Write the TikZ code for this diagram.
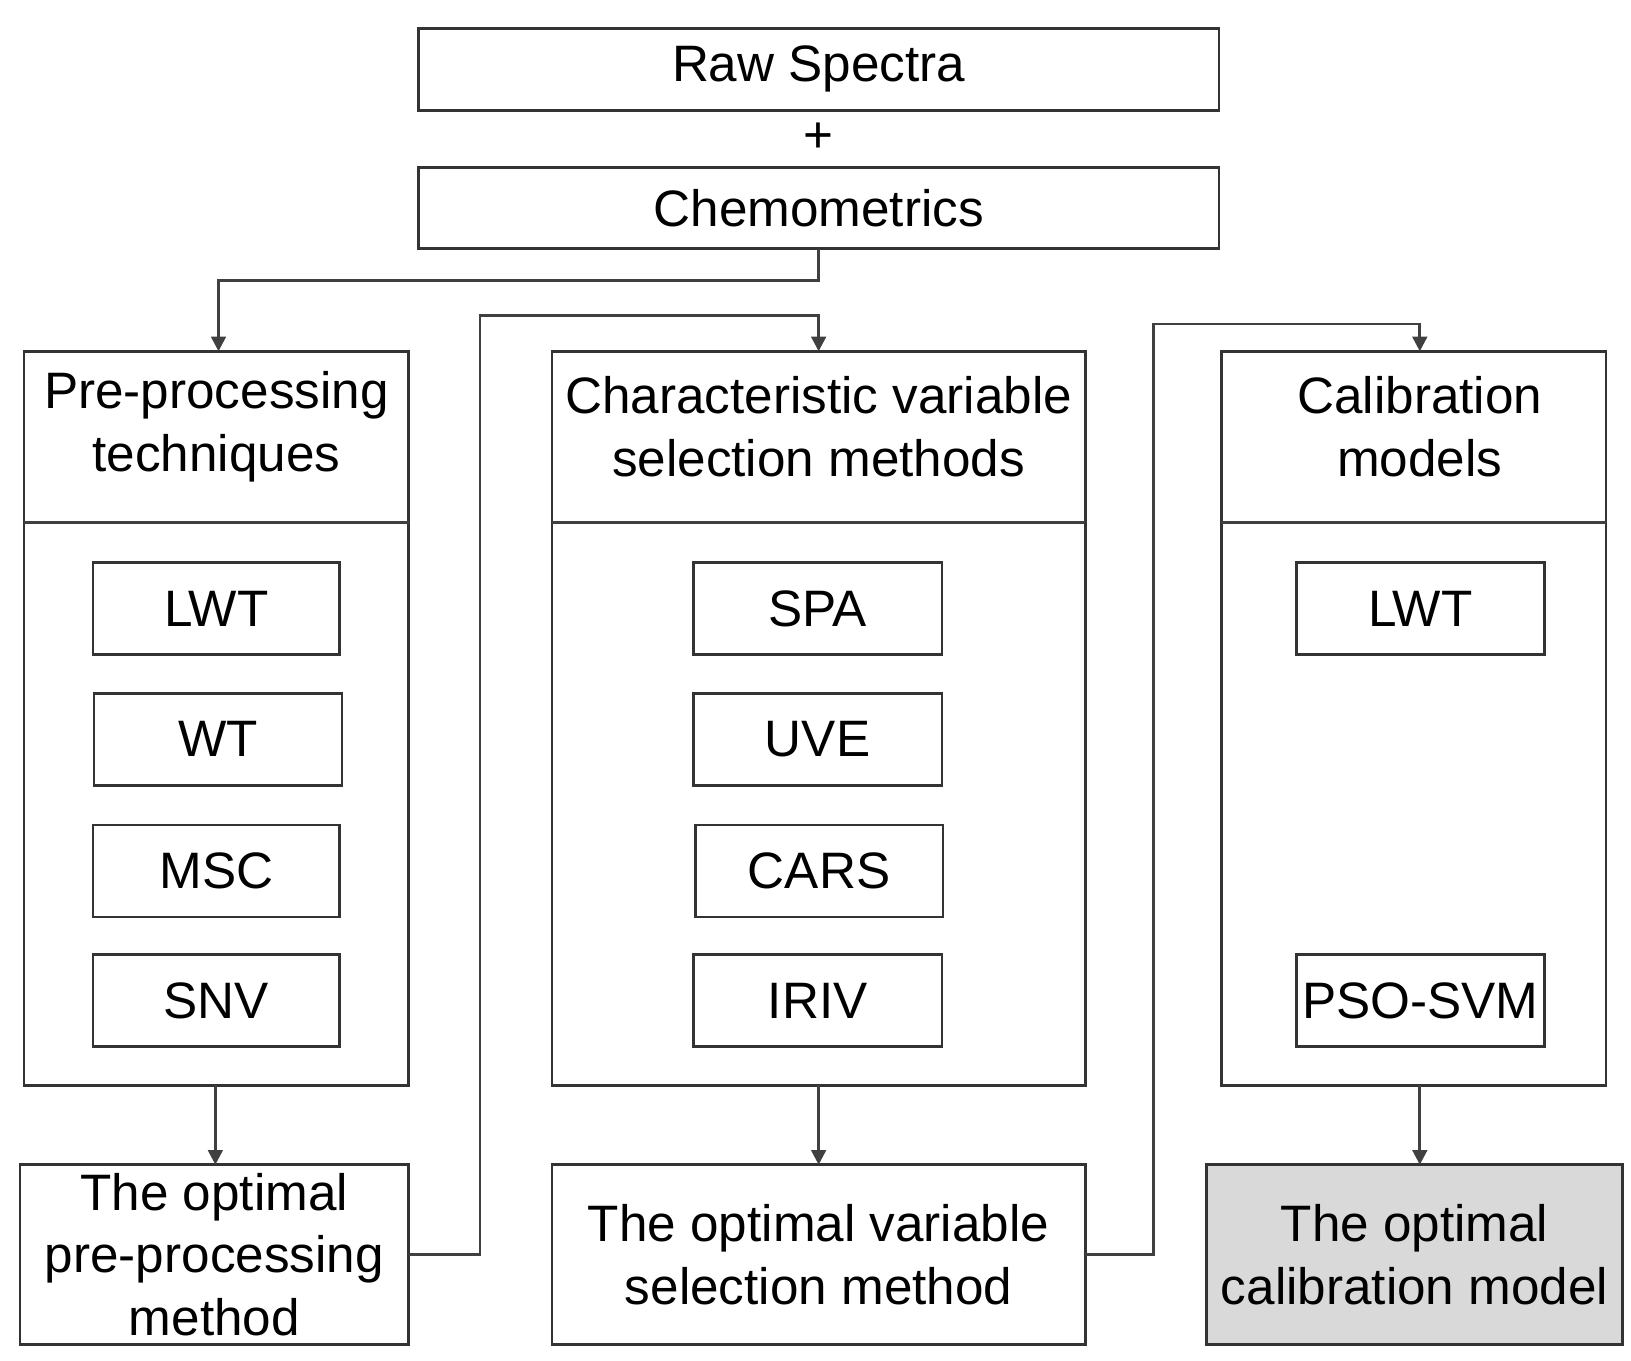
\documentclass[tikz,border=0pt]{standalone}
\usepackage{fontspec}
\setmainfont{Liberation Sans}
\usetikzlibrary{arrows.meta}
\begin{document}
\begin{tikzpicture}[x=0.5pt,y=-0.5pt,
  bx/.style={draw=black!80,line width=1.3pt,fill=white},
  tx/.style={font=\fontsize{24.5}{30}\selectfont,align=center},
  ar/.style={draw=black!75,line width=1.3pt,-{Triangle[length=7pt,width=7pt]}},
  ln/.style={draw=black!75,line width=1.3pt}]
\useasboundingbox (0,0) rectangle (1560,1301);
% top
\draw[bx] (400,27) rectangle (1166,106);
\node[tx] (raw) at (783,66) {Raw Spectra};
\node[tx] (plus) at (783,132) {+};
\draw[bx] (400,160) rectangle (1166,238);
\node[tx] (chem) at (783,199) {Chemometrics};
\coordinate (chemb) at (783,238);
% columns
\foreach \l/\r/\c in {23/391/206,528/1038/783,1168/1536/1352}{
  \draw[bx] (\l,336) rectangle (\r,1038);
  \draw[ln] (\l,500) -- (\r,500);
}
\node[tx] (h1) at (207,408) {Pre-processing\\techniques};
\node[tx] (h2) at (783,408) {Characteristic variable\\selection methods};
\node[tx] (h3) at (1358,408) {Calibration\\models};
\coordinate (t1) at (209,336);
\coordinate (t2) at (783,336);
\coordinate (t3) at (1358,336);
% items
\foreach \n/\l/\r/\t/\b/\s in {a1/89/325/538/626/LWT,a2/90/327/663/751/WT,a3/89/325/789/877/MSC,a4/89/325/913/1001/SNV,
 b1/663/901/538/626/SPA,b2/663/901/663/751/UVE,b3/665/902/789/877/CARS,b4/663/901/913/1001/IRIV,
 c1/1240/1477/538/626/LWT,c2/1240/1477/913/1001/PSO-SVM}{
  \draw[bx] (\l,\t) rectangle (\r,\b);
  \node[tx] (\n) at ({(\l+\r)/2},{(\t+\b)/2}) {\s};
}
% bottom
\draw[bx] (19,1114) rectangle (391,1286);
\node[tx] (o1) at (205,1200) {The optimal\\pre-processing\\method};
\draw[bx] (528,1114) rectangle (1038,1286);
\node[tx] (o2) at (783,1200) {The optimal variable\\selection method};
\draw[bx,fill=black!15] (1154,1114) rectangle (1552,1286);
\node[tx] (o3) at (1353,1200) {The optimal\\calibration model};
% connectors
\draw[ar] (chemb) -- (783,268) -- (209,268) -- (t1);
\draw[ar] (206,1038) -- (206,1114);
\draw[ar] (783,1038) -- (783,1114);
\draw[ar] (1358,1038) -- (1358,1114);
\draw[ar] (391,1200) -- (459,1200) -- (459,302) -- (783,302) -- (t2);
\draw[ar] (1038,1200) -- (1103,1200) -- (1103,310) -- (1358,310) -- (t3);
\end{tikzpicture}
\end{document}
